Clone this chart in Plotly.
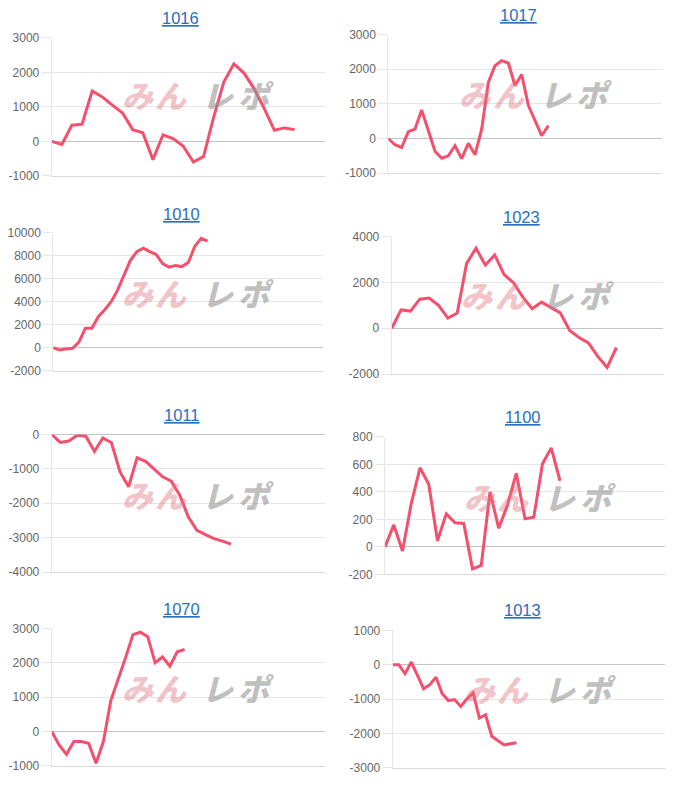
import plotly.graph_objects as go

# ---------------- data ----------------
titles = ["1016", "1017", "1010", "1023", "1011", "1100", "1070", "1013"]

v1016 = [0, -90, 470, 500, 1460, 1290, 1050, 820, 340, 250, -530, 190, 80, -140,
         -600, -440, 700, 1720, 2250, 1980, 1530, 950, 320, 390, 340]
v1017 = [0, -180, -260, 200, 270, 820, 230, -370, -570, -500, -210, -580, -140, -470,
         270, 1620, 2100, 2250, 2180, 1530, 1850, 960, 520, 80, 370]
v1010 = [0, -200, -100, -50, 500, 1700, 1700, 2700, 3300, 4000, 5000, 6300, 7600, 8350,
         8650, 8350, 8100, 7300, 7000, 7150, 7050, 7400, 8800, 9500, 9250]
v1023 = [0, 800, 750, 1270, 1320, 1000, 440, 660, 2830, 3490, 2760, 3200, 2340, 1990,
         1360, 850, 1140, 920, 670, -100, -400, -640, -1230, -1710, -840]
v1011 = [0, -230, -190, -20, -50, -490, -100, -240, -1090, -1520, -680, -780, -1010,
         -1230, -1360, -1770, -2400, -2790, -2910, -3030, -3100, -3190]
v1100 = [0, 160, -30, 315, 575, 455, 45, 240, 175, 170, -160, -135, 400, 135, 305,
         535, 205, 215, 605, 720, 480]
v1070 = [0, -390, -660, -290, -290, -340, -925, -290, 900, 1510, 2150, 2820, 2890,
         2760, 2000, 2170, 1900, 2320, 2390]
v1013 = [0, 0, -260, 80, -310, -700, -580, -360, -840, -1040, -1010, -1210, -990,
         -820, -1550, -1450, -2080, -2200, -2330, -2300, -2270]

ticks1016 = [-1000, 0, 1000, 2000, 3000]
ticks1017 = [-1000, 0, 1000, 2000, 3000]
ticks1010 = [-2000, 0, 2000, 4000, 6000, 8000, 10000]
ticks1023 = [-2000, 0, 2000, 4000]
ticks1011 = [-4000, -3000, -2000, -1000, 0]
ticks1100 = [-200, 0, 200, 400, 600, 800]
ticks1070 = [-1000, 0, 1000, 2000, 3000]
ticks1013 = [-3000, -2000, -1000, 0, 1000]

# number of x slots on each chart's category axis
slots = [27, 41, 42, 29, 32, 32, 37, 44]

series = [v1016, v1017, v1010, v1023, v1011, v1100, v1070, v1013]
tickset = [ticks1016, ticks1017, ticks1010, ticks1023, ticks1011, ticks1100, ticks1070, ticks1013]

# ---------------- layout (pixels) ----------------
W, H = 680, 791
# vertical correction so the photographed positions land where intended
VS, VO = 0.981, 7.4


def fy(py):
    return (py - VO) / VS


# plot boxes: left, right, top, bottom (target screen pixels)
boxes = [
    (51.7, 325, 38.3, 176),
    (388.3, 661.7, 35, 173.3),
    (53.3, 323.3, 232.7, 370.7),
    (391.7, 663.3, 236.7, 374),
    (51.7, 325, 434.3, 571.7),
    (385, 665, 436.7, 574),
    (51.7, 325, 628, 765.3),
    (392.7, 665, 630, 767.3),
]
title_pos = [(180.5, 18), (518.5, 15), (181, 214), (521.5, 217),
             (181, 415), (522, 417), (181, 609), (522, 610)]
wm_pos = [(199, 95), (537, 94), (199, 293), (539, 295),
          (199, 494), (541, 496), (199, 687), (541, 688)]

LINE = "#f4506d"
GRID = "#e6e6e6"
TICKFONT = dict(family="Liberation Sans, Arial, sans-serif", size=12, color="#666666")

fig = go.Figure()
layout = {}
annotations = []

for i, (name, vals, tv, ns, box) in enumerate(zip(titles, series, tickset, slots, boxes)):
    sfx = "" if i == 0 else str(i + 1)
    l, r, t, b = box
    fig.add_trace(go.Scatter(
        x=list(range(len(vals))), y=vals,
        xaxis="x" + sfx, yaxis="y" + sfx,
        mode="lines", line=dict(color=LINE, width=3),
        hoverinfo="skip", showlegend=False,
    ))
    layout["xaxis" + sfx] = dict(
        domain=[l / W, r / W], range=[0, ns], anchor="y" + sfx,
        showgrid=False, zeroline=False, showticklabels=False, ticks="",
        showline=True, linecolor="#d9d9d9", linewidth=1, fixedrange=True,
    )
    layout["yaxis" + sfx] = dict(
        domain=[1 - fy(b) / H, 1 - fy(t) / H], range=[min(tv), max(tv)], anchor="x" + sfx,
        tickvals=tv, ticktext=[str(v) for v in tv],
        showgrid=True, gridcolor=GRID, gridwidth=1,
        zeroline=True, zerolinecolor="#c4c4c4", zerolinewidth=1,
        showline=True, linecolor=GRID, linewidth=1,
        ticks="outside", ticklen=9, tickcolor=GRID, tickwidth=1,
        tickfont=TICKFONT, fixedrange=True,
    )
    tx, ty = title_pos[i]
    annotations.append(dict(
        xref="paper", yref="paper", x=tx / W, y=1 - fy(ty) / H,
        xanchor="center", yanchor="middle", showarrow=False,
        text="<u>" + name + "</u>",
        font=dict(family="Liberation Sans, Arial, sans-serif", size=16.5, color="#2a6ebd"),
    ))
    cx, cy = wm_pos[i]
    chars = [("み", -61, "rgba(226,120,132,0.45)"), ("ん", -28, "rgba(226,120,132,0.45)"),
             ("レ", 19, "rgba(150,150,150,0.6)"), ("ポ", 57, "rgba(150,150,150,0.6)")]
    for ch, dx, col in chars:
        annotations.append(dict(
            xref="paper", yref="paper", x=(cx + dx) / W, y=1 - fy(cy) / H,
            xanchor="center", yanchor="middle", showarrow=False,
            text=ch,
            font=dict(family="Noto Sans CJK JP", size=31, color=col,
                      weight=900, style="italic"),
        ))

fig.update_layout(
    width=W, height=H,
    margin=dict(l=0, r=0, t=0, b=0),
    paper_bgcolor="white", plot_bgcolor="rgba(0,0,0,0)",
    annotations=annotations,
    **layout,
)

post = (
    "var s=document.createElement('style');"
    "s.textContent='html,body{margin:0!important;padding:0!important;overflow:hidden;}';"
    "document.head.appendChild(s);"
)

fig.write_html("out.html", config={"displayModeBar": False}, post_script=post)
